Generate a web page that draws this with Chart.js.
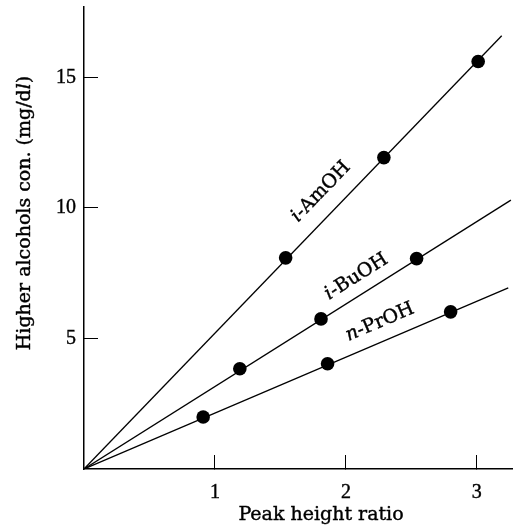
<!DOCTYPE html>
<html>
<head>
<meta charset="utf-8">
<script src="https://cdn.jsdelivr.net/npm/chart.js@4/dist/chart.umd.min.js"></script>
<style>
    html, body { margin: 0; padding: 0; background: #fff; }
    #wrap { width: 519px; height: 529px; }
</style>
</head>
<body>
<div id="wrap"><canvas id="chart"></canvas></div>
<script>
"use strict";

// measured points (peak height ratio, mg/dl)
const amX = [1.54, 2.29, 3.01];
const amY = [8.09, 11.93, 15.61];
const buX = [1.19, 1.81, 2.54];
const buY = [3.84, 5.75, 8.06];
const prX = [0.91, 1.86, 2.80];
const prY = [1.99, 4.03, 6.02];

// calibration lines run from the origin to these ends
const amLineEnd = [3.19, 16.6];
const buLineEnd = [3.26, 10.3];
const prLineEnd = [3.24, 6.94];

// [italic prefix, rest of name]
const amName = ['i', '-AmOH'];
const buName = ['i', '-BuOH'];
const prName = ['n', '-PrOH'];

const xTicks = [1, 2, 3];
const yTicks = [5, 10, 15];

const SERIF = '"DejaVu Serif", serif';
const TICK_FONT = '"Liberation Serif", serif';

// where the curve names sit, in data units
const nameAnchors = [[1.81, 10.62], [2.08, 7.36], [2.26, 5.62]];

function toPoints(xs, ys) {
    return xs.map((x, i) => ({x: x, y: ys[i]}));
}

function lineSet(end) {
    return {
        data: [{x: 0, y: 0}, {x: end[0], y: end[1]}],
        showLine: true,
        borderColor: '#000',
        borderWidth: 1.3,
        pointRadius: 0,
        order: 2
    };
}

function pointSet(xs, ys) {
    return {
        data: toPoints(xs, ys),
        showLine: false,
        pointRadius: 6.8,
        pointBackgroundColor: '#000',
        pointBorderColor: '#000',
        pointBorderWidth: 0,
        order: 1
    };
}

function drawParts(ctx, parts, size) {
    // parts: [[text, italic], ...] drawn centred on the current origin
    let total = 0;
    const widths = parts.map(([t, it]) => {
        ctx.font = (it ? 'italic ' : '') + size + 'px ' + SERIF;
        const w = ctx.measureText(t).width;
        total += w;
        return w;
    });
    let x = -total / 2;
    parts.forEach(([t, it], i) => {
        ctx.font = (it ? 'italic ' : '') + size + 'px ' + SERIF;
        ctx.fillText(t, x, 0);
        ctx.strokeText(t, x, 0);
        x += widths[i];
    });
}

const textPlugin = {
    id: 'textPlugin',
    afterDraw(chart) {
        const ctx = chart.ctx;
        const xs = chart.scales.x;
        const ys = chart.scales.y;
        const area = chart.chartArea;
        const names = [amName, buName, prName];
        const ends = [amLineEnd, buLineEnd, prLineEnd];

        ctx.save();
        ctx.fillStyle = '#000';
        ctx.strokeStyle = '#000';
        ctx.lineWidth = 0.4;
        ctx.textAlign = 'left';

        // names along the lines
        ctx.textBaseline = 'middle';
        names.forEach((name, i) => {
            const x0 = xs.getPixelForValue(0), y0 = ys.getPixelForValue(0);
            const x1 = xs.getPixelForValue(ends[i][0]), y1 = ys.getPixelForValue(ends[i][1]);
            const angle = Math.atan2(y1 - y0, x1 - x0);
            ctx.save();
            ctx.translate(xs.getPixelForValue(nameAnchors[i][0]), ys.getPixelForValue(nameAnchors[i][1]));
            ctx.rotate(angle);
            drawParts(ctx, [[name[0], true], [name[1], false]], 19);
            ctx.restore();
        });

        // axis titles
        ctx.textBaseline = 'alphabetic';
        ctx.save();
        ctx.translate(area.left + 237, area.bottom + 51);
        drawParts(ctx, [['Peak height ratio', false]], 19);
        ctx.restore();

        ctx.save();
        ctx.translate(30, area.top + 206);
        ctx.rotate(-Math.PI / 2);
        drawParts(ctx, [['Higher alcohols con. (mg/d', false], ['l', true], [')', false]], 19);
        ctx.restore();

        ctx.restore();
    }
};

const tickColor = c => (c.tick && c.tick.value === 0) ? 'rgba(0,0,0,0)' : '#000';

new Chart(document.getElementById('chart'), {
    type: 'scatter',
    data: {
        datasets: [
            lineSet(amLineEnd), lineSet(buLineEnd), lineSet(prLineEnd),
            pointSet(amX, amY), pointSet(buX, buY), pointSet(prX, prY)
        ]
    },
    options: {
        responsive: true,
        maintainAspectRatio: false,
        animation: false,
        layout: { padding: { top: 7, right: 6, left: 0, bottom: 0 } },
        plugins: { legend: { display: false }, tooltip: { enabled: false } },
        scales: {
            x: {
                type: 'linear',
                min: 0,
                max: 3.27,
                afterFit: s => {
                    s.height = 60;
                    s.paddingLeft = 0;
                    s.paddingRight = 0;
                },
                afterBuildTicks: s => { s.ticks = xTicks.map(v => ({value: v})); },
                ticks: {
                    padding: 26,
                    color: '#000',
                    textStrokeColor: '#000',
                    textStrokeWidth: 0.4,
                    font: { family: TICK_FONT, size: 20 },
                    maxRotation: 0
                },
                grid: {
                    drawOnChartArea: false,
                    drawTicks: true,
                    tickLength: -14,
                    tickWidth: 1,
                    tickColor: tickColor
                },
                border: { display: true, color: '#000', width: 1.5 }
            },
            y: {
                type: 'linear',
                min: 0,
                max: 17.7,
                afterFit: s => {
                    s.width = 84;
                    s.paddingTop = 0;
                    s.paddingBottom = 0;
                },
                afterBuildTicks: s => { s.ticks = yTicks.map(v => ({value: v})); },
                ticks: {
                    padding: 22,
                    color: '#000',
                    textStrokeColor: '#000',
                    textStrokeWidth: 0.4,
                    font: { family: TICK_FONT, size: 20 }
                },
                grid: {
                    drawOnChartArea: false,
                    drawTicks: true,
                    tickLength: -14,
                    tickWidth: 1,
                    tickColor: tickColor
                },
                border: { display: true, color: '#000', width: 1.5 }
            }
        }
    },
    plugins: [textPlugin]
});
</script>
</body>
</html>
